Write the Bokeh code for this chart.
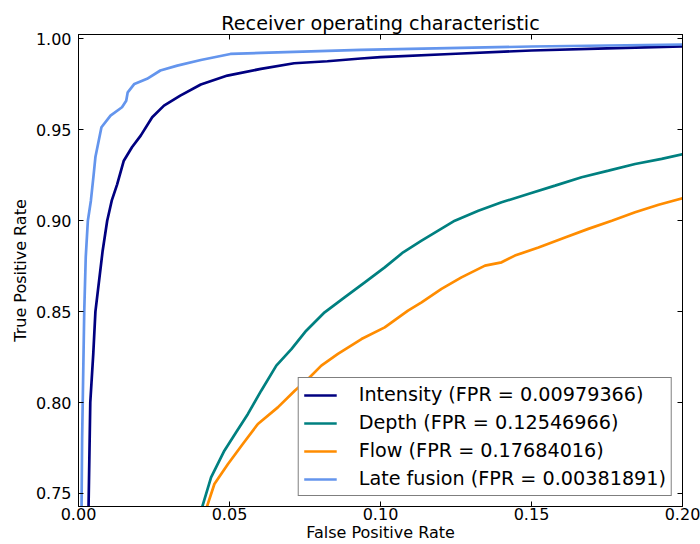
from bokeh.plotting import figure
from bokeh.models import (Range1d, LinearAxis, FixedTicker, PrintfTickFormatter,
                          Legend, LegendItem)
from bokeh.embed import file_html
from bokeh.resources import INLINE

# ---- data ----
title_text = "Receiver operating characteristic"
x_label = "False Positive Rate"
y_label = "True Positive Rate"
x_ticks = [0.00, 0.05, 0.10, 0.15, 0.20]
y_ticks = [0.75, 0.80, 0.85, 0.90, 0.95, 1.00]

intensity_fpr = [0.0033, 0.0039, 0.0049, 0.0056, 0.0080, 0.0095, 0.0110, 0.0128,
                 0.0150, 0.0177, 0.0206, 0.0244, 0.0283, 0.0337, 0.0405, 0.0493,
                 0.0604, 0.0714, 0.0824, 0.0935, 0.1000, 0.1250, 0.1500, 0.1750, 0.2000]
intensity_tpr = [0.7400, 0.8000, 0.8270, 0.8500, 0.8835, 0.9000, 0.9110, 0.9200,
                 0.9330, 0.9404, 0.9468, 0.9569, 0.9633, 0.9688, 0.9749, 0.9798,
                 0.9835, 0.9866, 0.9877, 0.9892, 0.9900, 0.9918, 0.9936, 0.9948, 0.9959]

depth_fpr = [0.0405, 0.0439, 0.0483, 0.0522, 0.0561, 0.0605, 0.0655, 0.0705, 0.0754,
             0.0815, 0.0881, 0.0948, 0.1014, 0.1075, 0.1136, 0.1191, 0.1246, 0.1324,
             0.1401, 0.1489, 0.1578, 0.1666, 0.1755, 0.1843, 0.1931, 0.2003]
depth_tpr = [0.7400, 0.7588, 0.7735, 0.7836, 0.7937, 0.8065, 0.8203, 0.8294, 0.8395,
             0.8496, 0.8578, 0.8661, 0.8743, 0.8826, 0.8890, 0.8945, 0.9000, 0.9055,
             0.9101, 0.9147, 0.9193, 0.9239, 0.9275, 0.9312, 0.9340, 0.9367]

flow_fpr = [0.0420, 0.0450, 0.0495, 0.0544, 0.0594, 0.0660, 0.0716, 0.0760, 0.0804,
            0.0859, 0.0937, 0.1014, 0.1091, 0.1136, 0.1202, 0.1268, 0.1346, 0.1401,
            0.1445, 0.1523, 0.1611, 0.1688, 0.1766, 0.1843, 0.1921, 0.2003]
flow_tpr = [0.7400, 0.7552, 0.7662, 0.7772, 0.7882, 0.7973, 0.8065, 0.8129, 0.8203,
            0.8267, 0.8349, 0.8413, 0.8505, 0.8551, 0.8625, 0.8688, 0.8753, 0.8771,
            0.8808, 0.8853, 0.8908, 0.8955, 0.9000, 0.9046, 0.9088, 0.9125]

late_fpr = [0.0010, 0.0012, 0.0014, 0.0019, 0.0024, 0.0031, 0.0041, 0.0050, 0.0056,
            0.0076, 0.0106, 0.0144, 0.0158, 0.0163, 0.0185, 0.0227, 0.0271, 0.0327,
            0.0405, 0.0503, 0.0604, 0.0935, 0.1500, 0.2000]
late_tpr = [0.7400, 0.7800, 0.8000, 0.8500, 0.8800, 0.9000, 0.9110, 0.9250, 0.9350,
            0.9514, 0.9578, 0.9624, 0.9660, 0.9706, 0.9752, 0.9780, 0.9826, 0.9853,
            0.9884, 0.9917, 0.9923, 0.9939, 0.9958, 0.9969]

series_names = ["Intensity (FPR = 0.00979366)", "Depth (FPR = 0.12546966)",
                "Flow (FPR = 0.17684016)", "Late fusion (FPR = 0.00381891)"]
series_colors = ["#000080", "#008080", "#FF8C00", "#6495ED"]

FONT = "DejaVu Sans"

p = figure(width=700, height=544, output_backend="svg", toolbar_location=None,
           x_range=Range1d(0.0, 0.2), y_range=Range1d(0.7428, 1.0024),
           min_border_left=78, min_border_right=18, min_border_top=34,
           min_border_bottom=38, title=title_text)
p.background_fill_color = "white"
p.border_fill_color = "white"
p.outline_line_color = "black"
p.outline_line_width = 1
p.grid.visible = False

p.title.text_font = FONT
p.title.text_font_size = "19.2px"
p.title.text_font_style = "normal"
p.title.align = "center"
p.title.standoff = 0
p.title.text_color = "black"

xs = [intensity_fpr, depth_fpr, flow_fpr, late_fpr]
ys = [intensity_tpr, depth_tpr, flow_tpr, late_tpr]
renderers = []
for xv, yv, c in zip(xs, ys, series_colors):
    r = p.line(xv, yv, line_color=c, line_width=2.7)
    renderers.append(r)


def style_axis(ax, ticks, show_labels):
    ax.ticker = FixedTicker(ticks=ticks)
    ax.formatter = PrintfTickFormatter(format="%.2f")
    ax.major_tick_in = 5
    ax.major_tick_out = 0
    ax.minor_tick_line_color = None
    ax.axis_line_color = "black"
    ax.major_tick_line_color = "black"
    ax.major_label_text_font = FONT
    ax.major_label_text_font_size = "16px"
    ax.major_label_text_color = "black"
    ax.axis_label_text_font = FONT
    ax.axis_label_text_font_size = "16px"
    ax.axis_label_text_font_style = "normal"
    ax.axis_label_text_color = "black"
    if not show_labels:
        ax.major_label_text_font_size = "1px"
        ax.major_label_text_color = None
        ax.major_label_standoff = 0


xa = p.xaxis[0]
ya = p.yaxis[0]
style_axis(xa, x_ticks, True)
style_axis(ya, y_ticks, True)
xa.axis_label = x_label
ya.axis_label = y_label
xa.major_label_standoff = 1
ya.major_label_standoff = 7
xa.axis_label_standoff = 0
ya.axis_label_standoff = 3

top_ax = LinearAxis()
right_ax = LinearAxis()
style_axis(top_ax, x_ticks, False)
style_axis(right_ax, y_ticks, False)
p.add_layout(top_ax, "above")
p.add_layout(right_ax, "right")

items = [LegendItem(label=n, renderers=[r]) for n, r in zip(series_names, renderers)]
legend = Legend(items=items, location="bottom_right")
legend.label_text_font = FONT
legend.label_text_font_size = "19.2px"
legend.label_text_color = "black"
legend.border_line_color = "black"
legend.border_line_width = 1
legend.background_fill_color = "white"
legend.background_fill_alpha = 1.0
legend.padding = 5
legend.spacing = 5
legend.margin = 10
legend.glyph_width = 33
legend.glyph_height = 22
legend.label_height = 22
legend.label_standoff = 22
p.add_layout(legend, "center")

open("out.html", "w").write(file_html(p, INLINE))
